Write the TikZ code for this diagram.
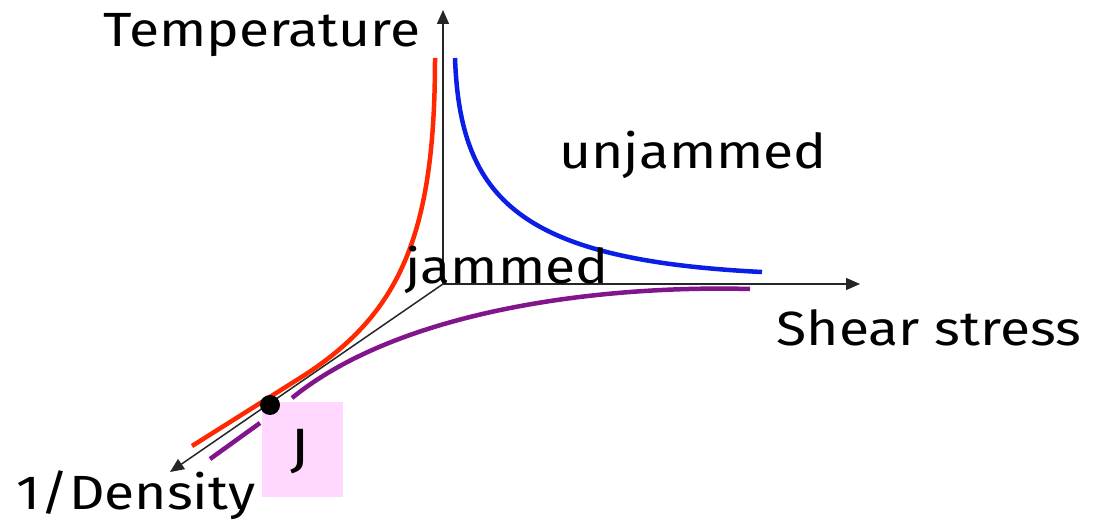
\documentclass[tikz,border=0pt]{standalone}
\usepackage{fontspec}
\setmainfont{Fira Sans}
\usetikzlibrary{arrows.meta}
\definecolor{jred}{RGB}{255,40,0}
\definecolor{jblue}{RGB}{10,30,230}
\definecolor{jpurple}{RGB}{130,20,140}
\definecolor{jpink}{RGB}{255,215,255}
\newcommand{\wtxt}[1]{\scalebox{1.15}[1]{#1}}
\tikzset{
  axis/.style={line width=1.5pt, draw=black!85, -{Triangle[length=14pt,width=12pt]}},
  curve/.style={line width=4.5pt},
  lbl/.style={font=\fontsize{48}{54}\selectfont, inner sep=0pt, text=black}
}
\begin{document}
\begin{tikzpicture}[x=1pt,y=-1pt]
\useasboundingbox (0,0) rectangle (1107,529);
\coordinate (O) at (443,284);
\coordinate (T) at (443,10);
\coordinate (S) at (860,284);
\coordinate (D) at (170,472);
% curves
\draw[curve, jpurple] (750,289) .. controls (600,285) and (400,310) .. (292,398);
\draw[curve, jpurple] (260,423) -- (210,459);
\draw[curve, jred] (435,58) .. controls (435,235) and (400,315) .. (300,378) -- (192,446);
\draw[curve, jblue] (455,58) .. controls (460,200) and (520,260) .. (762,272);
% axes
\draw[axis] (O) -- (T);
\draw[axis] (O) -- (S);
\draw[axis] (O) -- (D);
% J box
\node[fill=jpink, minimum width=81pt, minimum height=95pt, inner sep=0pt] (Jbox) at (302.5,449.5) {};
\node[lbl, font=\fontsize{54}{60}\selectfont] (J) at (300,452) {\wtxt{J}};
\fill (270,405) circle (10pt) coordinate (Jdot);
% labels
\node[lbl] (temp) at (262,35) {\wtxt{Temperature}};
\node[lbl] (unj) at (693,155) {\wtxt{unjammed}};
\node[lbl] (jam) at (507,270) {\wtxt{jammed}};
\node[lbl] (shear) at (929,328) {\wtxt{Shear stress}};
\node[lbl] (dens) at (136,495) {\wtxt{1/Density}};
\end{tikzpicture}
\end{document}
